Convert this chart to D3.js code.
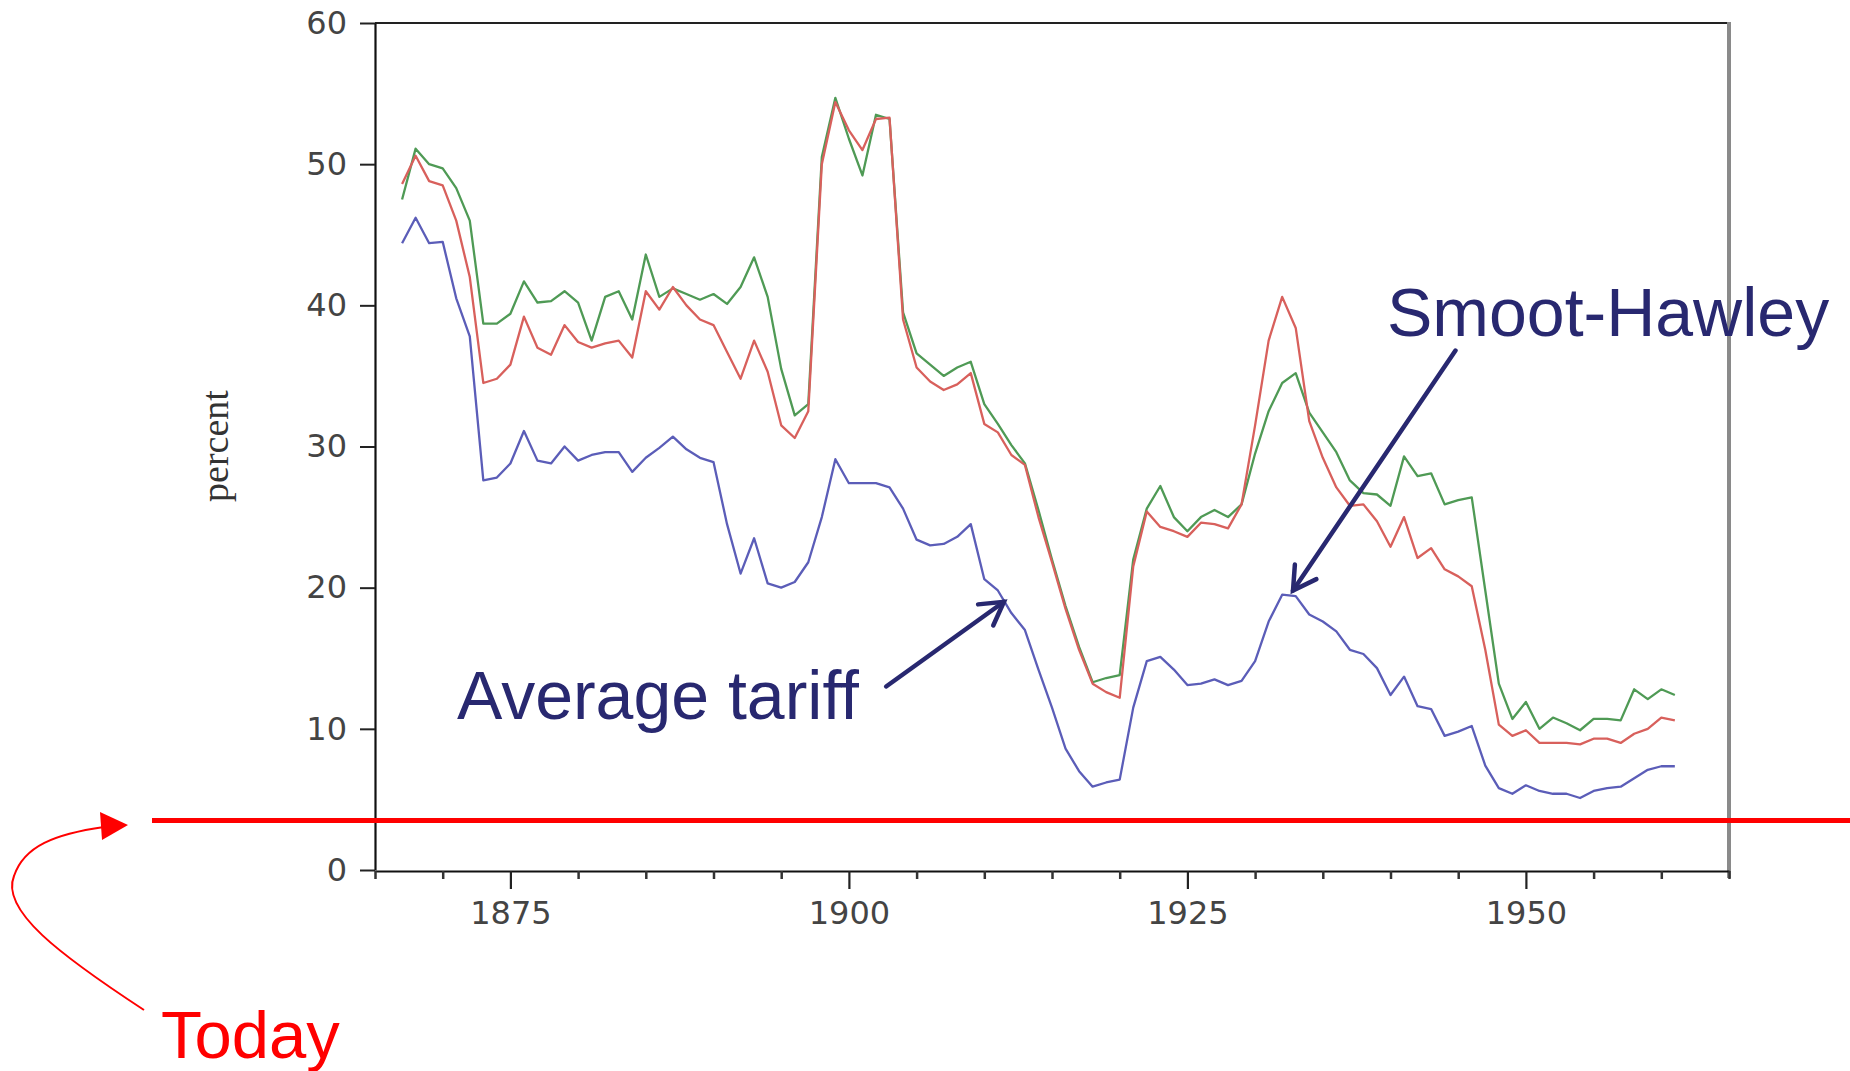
<!DOCTYPE html>
<html>
<head>
<meta charset="utf-8">
<script src="https://cdn.jsdelivr.net/npm/d3@7"></script>
<style>
  body { margin: 0; background: #fff; }
</style>
</head>
<body>
<div id="chart"></div>
<script>
// Years on the x axis
const years = [1867, 1868, 1869, 1870, 1871, 1872, 1873, 1874, 1875, 1876,
  1877, 1878, 1879, 1880, 1881, 1882, 1883, 1884, 1885, 1886,
  1887, 1888, 1889, 1890, 1891, 1892, 1893, 1894, 1895, 1896,
  1897, 1898, 1899, 1900, 1901, 1902, 1903, 1904, 1905, 1906,
  1907, 1908, 1909, 1910, 1911, 1912, 1913, 1914, 1915, 1916,
  1917, 1918, 1919, 1920, 1921, 1922, 1923, 1924, 1925, 1926,
  1927, 1928, 1929, 1930, 1931, 1932, 1933, 1934, 1935, 1936,
  1937, 1938, 1939, 1940, 1941, 1942, 1943, 1944, 1945, 1946,
  1947, 1948, 1949, 1950, 1951, 1952, 1953, 1954, 1955, 1956,
  1957, 1958, 1959, 1960, 1961];

// Green series (top line)
const greenSeries = [47.5, 51.1, 50.0, 49.7, 48.3, 46.0, 38.7, 38.7, 39.4, 41.7,
  40.2, 40.3, 41.0, 40.2, 37.5, 40.6, 41.0, 39.0, 43.6, 40.6,
  41.2, 40.8, 40.4, 40.8, 40.1, 41.3, 43.4, 40.6, 35.5, 32.2,
  33.0, 50.5, 54.7, 51.8, 49.2, 53.5, 53.2, 39.5, 36.6, 35.8,
  35.0, 35.6, 36.0, 33.0, 31.6, 30.1, 28.8, 25.5, 22.0, 18.7,
  15.8, 13.3, 13.6, 13.8, 22.0, 25.6, 27.2, 25.0, 24.0, 25.0,
  25.5, 25.0, 25.9, 29.5, 32.5, 34.5, 35.2, 32.4, 31.0, 29.6,
  27.6, 26.7, 26.6, 25.8, 29.3, 27.9, 28.1, 25.9, 26.2, 26.4,
  19.8, 13.2, 10.7, 11.9, 10.0, 10.8, 10.4, 9.9, 10.7, 10.7,
  10.6, 12.8, 12.1, 12.8, 12.4];

// Red series (middle line)
const redSeries = [48.6, 50.6, 48.8, 48.5, 46.0, 42.0, 34.5, 34.8, 35.8, 39.2,
  37.0, 36.5, 38.6, 37.4, 37.0, 37.3, 37.5, 36.3, 41.0, 39.7,
  41.3, 40.0, 39.0, 38.6, 36.7, 34.8, 37.5, 35.3, 31.5, 30.6,
  32.5, 50.0, 54.4, 52.4, 51.0, 53.2, 53.3, 39.0, 35.6, 34.6,
  34.0, 34.4, 35.2, 31.6, 31.0, 29.4, 28.7, 25.0, 21.8, 18.5,
  15.6, 13.2, 12.6, 12.2, 21.5, 25.4, 24.3, 24.0, 23.6, 24.6,
  24.5, 24.2, 25.9, 31.5, 37.5, 40.6, 38.4, 31.8, 29.2, 27.1,
  25.8, 25.9, 24.7, 22.9, 25.0, 22.1, 22.8, 21.3, 20.8, 20.1,
  15.6, 10.3, 9.5, 9.9, 9.0, 9.0, 9.0, 8.9, 9.3, 9.3,
  9.0, 9.65, 10.0, 10.8, 10.6];

// Blue series (average tariff)
const blueSeries = [44.4, 46.2, 44.4, 44.5, 40.5, 37.8, 27.6, 27.8, 28.8, 31.1,
  29.0, 28.8, 30.0, 29.0, 29.4, 29.6, 29.6, 28.2, 29.2, 29.9,
  30.7, 29.8, 29.2, 28.9, 24.5, 21.0, 23.5, 20.3, 20.0, 20.4,
  21.8, 25.0, 29.1, 27.4, 27.4, 27.4, 27.1, 25.6, 23.4, 23.0,
  23.1, 23.6, 24.5, 20.6, 19.8, 18.2, 17.0, 14.2, 11.5, 8.6,
  7.0, 5.9, 6.2, 6.4, 11.5, 14.8, 15.1, 14.2, 13.1, 13.2,
  13.5, 13.1, 13.4, 14.8, 17.6, 19.5, 19.4, 18.1, 17.6, 16.9,
  15.6, 15.3, 14.3, 12.4, 13.7, 11.6, 11.4, 9.5, 9.8, 10.2,
  7.4, 5.8, 5.4, 6.0, 5.6, 5.4, 5.4, 5.1, 5.6, 5.8,
  5.9, 6.5, 7.1, 7.35, 7.35];

// Axis ticks
const yTicks = [0, 10, 20, 30, 40, 50, 60];
const xMajorTicks = [1875, 1900, 1925, 1950];
const xMinorTicks = [1865, 1870, 1880, 1885, 1890, 1895, 1905, 1910, 1915, 1920,
  1930, 1935, 1940, 1945, 1955, 1960, 1965];

// Today's tariff level
const todayLevel = 3.5;

// Annotations: [tail year, tail value] -> [tip year, tip value]
const avgTariffArrow = { tail: [1902.75, 13.0], tip: [1911.45, 19.0] };
const smootArrow = { tail: [1944.8, 36.8], tip: [1932.8, 19.8] };

const width = 1850;
const height = 1071;

const svg = d3.select("#chart")
  .append("svg")
  .attr("width", width)
  .attr("height", height)
  .style("background", "white");

// Scales
const x = d3.scaleLinear()
  .domain([1865, 1965])
  .range([375, 1729]);

const y = d3.scaleLinear()
  .domain([0, 60])
  .range([870, 23]);

// Frame: top and right border
svg.append("line")
  .attr("x1", x(1865)).attr("x2", x(1965))
  .attr("y1", y(60)).attr("y2", y(60))
  .attr("stroke", "#222")
  .attr("stroke-width", 2);

svg.append("line")
  .attr("x1", x(1965)).attr("x2", x(1965))
  .attr("y1", y(60) - 1).attr("y2", y(0) + 8)
  .attr("stroke", "#8a8a8a")
  .attr("stroke-width", 4);

// Y axis
const yAxis = d3.axisLeft(y)
  .tickValues(yTicks)
  .tickSize(15)
  .tickSizeOuter(0)
  .tickPadding(13);

svg.append("g")
  .attr("transform", `translate(${x(1865)},0)`)
  .call(yAxis)
  .call(g => g.select(".domain").attr("stroke", "#111").attr("stroke-width", 2.2))
  .call(g => g.selectAll(".tick line").attr("stroke", "#222").attr("stroke-width", 2))
  .selectAll("text")
  .attr("fill", "#444")
  .style("font-family", "'DejaVu Sans', sans-serif")
  .style("font-size", "32px");

// X axis (minor ticks)
svg.append("g")
  .attr("transform", `translate(0,${y(0) + 1})`)
  .call(d3.axisBottom(x).tickValues(xMinorTicks).tickSize(8).tickSizeOuter(0).tickFormat(""))
  .call(g => g.select(".domain").attr("stroke", "#111").attr("stroke-width", 2.2))
  .call(g => g.selectAll(".tick line").attr("stroke", "#333").attr("stroke-width", 2.5));

// X axis (major ticks + labels)
svg.append("g")
  .attr("transform", `translate(0,${y(0) + 1})`)
  .call(d3.axisBottom(x).tickValues(xMajorTicks).tickSize(18).tickSizeOuter(0)
    .tickPadding(12).tickFormat(d3.format("d")))
  .call(g => g.select(".domain").remove())
  .call(g => g.selectAll(".tick line").attr("stroke", "#222").attr("stroke-width", 2.2))
  .selectAll("text")
  .attr("fill", "#444")
  .style("font-family", "'DejaVu Sans', sans-serif")
  .style("font-size", "32px");

// Y-axis label
svg.append("text")
  .attr("transform", "rotate(-90)")
  .attr("x", -446)
  .attr("y", 228)
  .attr("text-anchor", "middle")
  .attr("fill", "#333")
  .style("font-family", "'Liberation Serif', 'DejaVu Serif', serif")
  .style("font-size", "38px")
  .text("percent");

// Series lines
const line = d3.line()
  .x((d, i) => x(years[i]))
  .y(d => y(d));

const series = [
  { values: blueSeries, color: "#5b5db8" },
  { values: greenSeries, color: "#4f9a55" },
  { values: redSeries, color: "#d8605c" }
];

svg.append("g")
  .selectAll("path")
  .data(series)
  .join("path")
  .attr("d", d => line(d.values))
  .attr("fill", "none")
  .attr("stroke", d => d.color)
  .attr("stroke-width", 2.3)
  .attr("stroke-linejoin", "round");

// Today line
svg.append("line")
  .attr("x1", 152)
  .attr("x2", width)
  .attr("y1", y(todayLevel))
  .attr("y2", y(todayLevel))
  .attr("stroke", "#ff0000")
  .attr("stroke-width", 5);

// Curved arrow from "Today" label
svg.append("path")
  .attr("d", "M144,1010 C60,955 0,910 14,876 C24,846 55,834 104,827")
  .attr("fill", "none")
  .attr("stroke", "#ff0000")
  .attr("stroke-width", 2);

svg.append("path")
  .attr("d", "M128,825 L100,812 L102,840 Z")
  .attr("fill", "#ff0000");

svg.append("text")
  .attr("x", 161)
  .attr("y", 1058)
  .attr("fill", "#ff0000")
  .style("font-family", "'Liberation Sans', Arial, sans-serif")
  .style("font-size", "67px")
  .text("Today");

// Navy annotations
const navy = "#282870";

function drawArrow(a) {
  const x1 = x(a.tail[0]), y1 = y(a.tail[1]);
  const x2 = x(a.tip[0]), y2 = y(a.tip[1]);
  const ang = Math.atan2(y2 - y1, x2 - x1);
  const len = 26, spread = Math.PI / 6;
  const g = svg.append("g")
    .attr("stroke", navy)
    .attr("stroke-width", 4.5)
    .attr("stroke-linecap", "round")
    .attr("fill", "none");
  g.append("line").attr("x1", x1).attr("y1", y1).attr("x2", x2).attr("y2", y2);
  g.append("path")
    .attr("stroke-linejoin", "miter")
    .attr("d", `M${x2 - len * Math.cos(ang - spread)},${y2 - len * Math.sin(ang - spread)}`
      + `L${x2},${y2}`
      + `L${x2 - len * Math.cos(ang + spread)},${y2 - len * Math.sin(ang + spread)}`);
}

drawArrow(avgTariffArrow);
drawArrow(smootArrow);

svg.append("text")
  .attr("x", 457)
  .attr("y", 719)
  .attr("fill", navy)
  .style("font-family", "'Liberation Sans', Arial, sans-serif")
  .style("font-size", "68px")
  .text("Average tariff");

svg.append("text")
  .attr("x", 1387)
  .attr("y", 336)
  .attr("fill", navy)
  .style("font-family", "'Liberation Sans', Arial, sans-serif")
  .style("font-size", "68px")
  .text("Smoot-Hawley");
</script>
</body>
</html>
